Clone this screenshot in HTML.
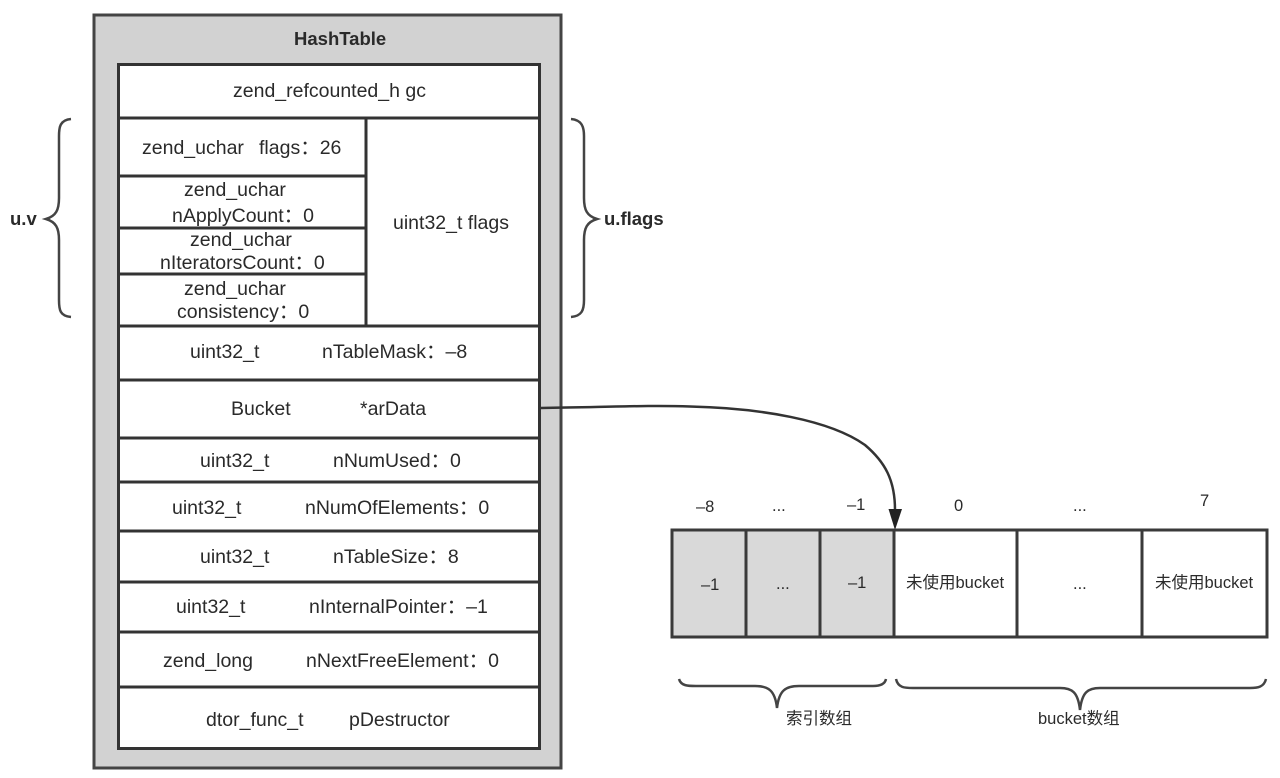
<!DOCTYPE html>
<html><head><meta charset="utf-8"><style>
html,body{margin:0;padding:0;background:#fff}
svg{display:block}
text{font-family:"Liberation Sans","Noto Sans CJK SC",sans-serif;font-size:19.5px;fill:#2a2a2a}
.s{font-size:16.5px}
.b{font-weight:bold;font-size:18.5px}
</style></head><body>
<svg width="1280" height="778" viewBox="0 0 1280 778" xmlns="http://www.w3.org/2000/svg">
<g style="filter:blur(0.35px)">
<rect x="94" y="15" width="467" height="753" fill="#d2d2d2" stroke="#444" stroke-width="3"/>
<rect x="118.500" y="64.500" width="421" height="684" fill="#fff" stroke="#333" stroke-width="3"/>
<g stroke="#333" stroke-width="3" fill="none">
<path d="M118 118H540M118 326H540M118 380H540M118 438H540M118 482H540M118 531H540M118 582H540M118 632H540M118 687H540"/>
<path d="M366 118V326M118 176H366M118 228H366M118 274H366"/>
</g>
<g fill="none" stroke="#444" stroke-width="2.500">
<path d="M71 119C60 120 59 127 59 136V198C59 210 56 216 46 219C56 222 59 228 59 240V300C59 310 60 316 71 317"/>
<path d="M571 119C582 120 584 127 584 136V198C584 210 587 216 597 219C587 222 584 228 584 240V300C584 310 582 316 571 317"/>
<path d="M679 679C681 686 688 686 696 686H755C768 686 775 690 777 708C779 690 786 686 799 686H873C880 686 885 684 886 679"/>
<path d="M896 679C898 688 905 688 913 688H1060C1072 688 1078 692 1080 710C1082 692 1088 688 1100 688H1250C1258 688 1264 687 1266 679"/>
</g>
<path d="M541 408C610 407 650 405 690 406.500C760 408 830 420 865 445C885 462 895 480 895 510" fill="none" stroke="#333" stroke-width="2.500"/>
<path d="M888.500 509L902 509L895 530Z" fill="#222"/>
<rect x="672" y="530" width="222" height="107" fill="#d9d9d9"/>
<rect x="672" y="530" width="595" height="107" fill="none" stroke="#3a3a3a" stroke-width="3"/>
<path d="M746 530V637M820 530V637M894 530V637M1017 530V637M1142 530V637" stroke="#3a3a3a" stroke-width="3" fill="none"/>
<text class="b" x="294" y="45">HashTable</text>
<text x="233" y="97">zend_refcounted_h gc</text>
<text x="142" y="154">zend_uchar</text><text x="259" y="154">flags：26</text>
<text x="184" y="196">zend_uchar</text><text x="172" y="222">nApplyCount：0</text>
<text x="190" y="246">zend_uchar</text><text x="160" y="269">nIteratorsCount：0</text>
<text x="184" y="295">zend_uchar</text><text x="177" y="318">consistency：0</text>
<text x="393" y="229">uint32_t flags</text>
<text x="190" y="358">uint32_t</text><text x="322" y="358">nTableMask：–8</text>
<text x="231" y="415">Bucket</text><text x="360" y="415">*arData</text>
<text x="200" y="467">uint32_t</text><text x="333" y="467">nNumUsed：0</text>
<text x="172" y="514">uint32_t</text><text x="305" y="514">nNumOfElements：0</text>
<text x="200" y="563">uint32_t</text><text x="333" y="563">nTableSize：8</text>
<text x="176" y="613">uint32_t</text><text x="309" y="613">nInternalPointer：–1</text>
<text x="163" y="667">zend_long</text><text x="306" y="667">nNextFreeElement：0</text>
<text x="206" y="726">dtor_func_t</text><text x="349" y="726">pDestructor</text>
<text class="b" x="10" y="225">u.v</text>
<text class="b" x="604" y="225">u.flags</text>
<text class="s" x="696" y="512">–8</text><text class="s" x="772" y="511">...</text><text class="s" x="847" y="510">–1</text>
<text class="s" x="954" y="511">0</text><text class="s" x="1073" y="511">...</text><text class="s" x="1200" y="506">7</text>
<text class="s" x="701" y="590">–1</text><text class="s" x="776" y="589">...</text><text class="s" x="848" y="588">–1</text>
<text class="s" x="906" y="588">未使用bucket</text><text class="s" x="1073" y="589">...</text><text class="s" x="1155" y="588">未使用bucket</text>
<text class="s" x="786" y="724">索引数组</text><text class="s" x="1038" y="724">bucket数组</text>
</g>
</svg>
</body></html>
